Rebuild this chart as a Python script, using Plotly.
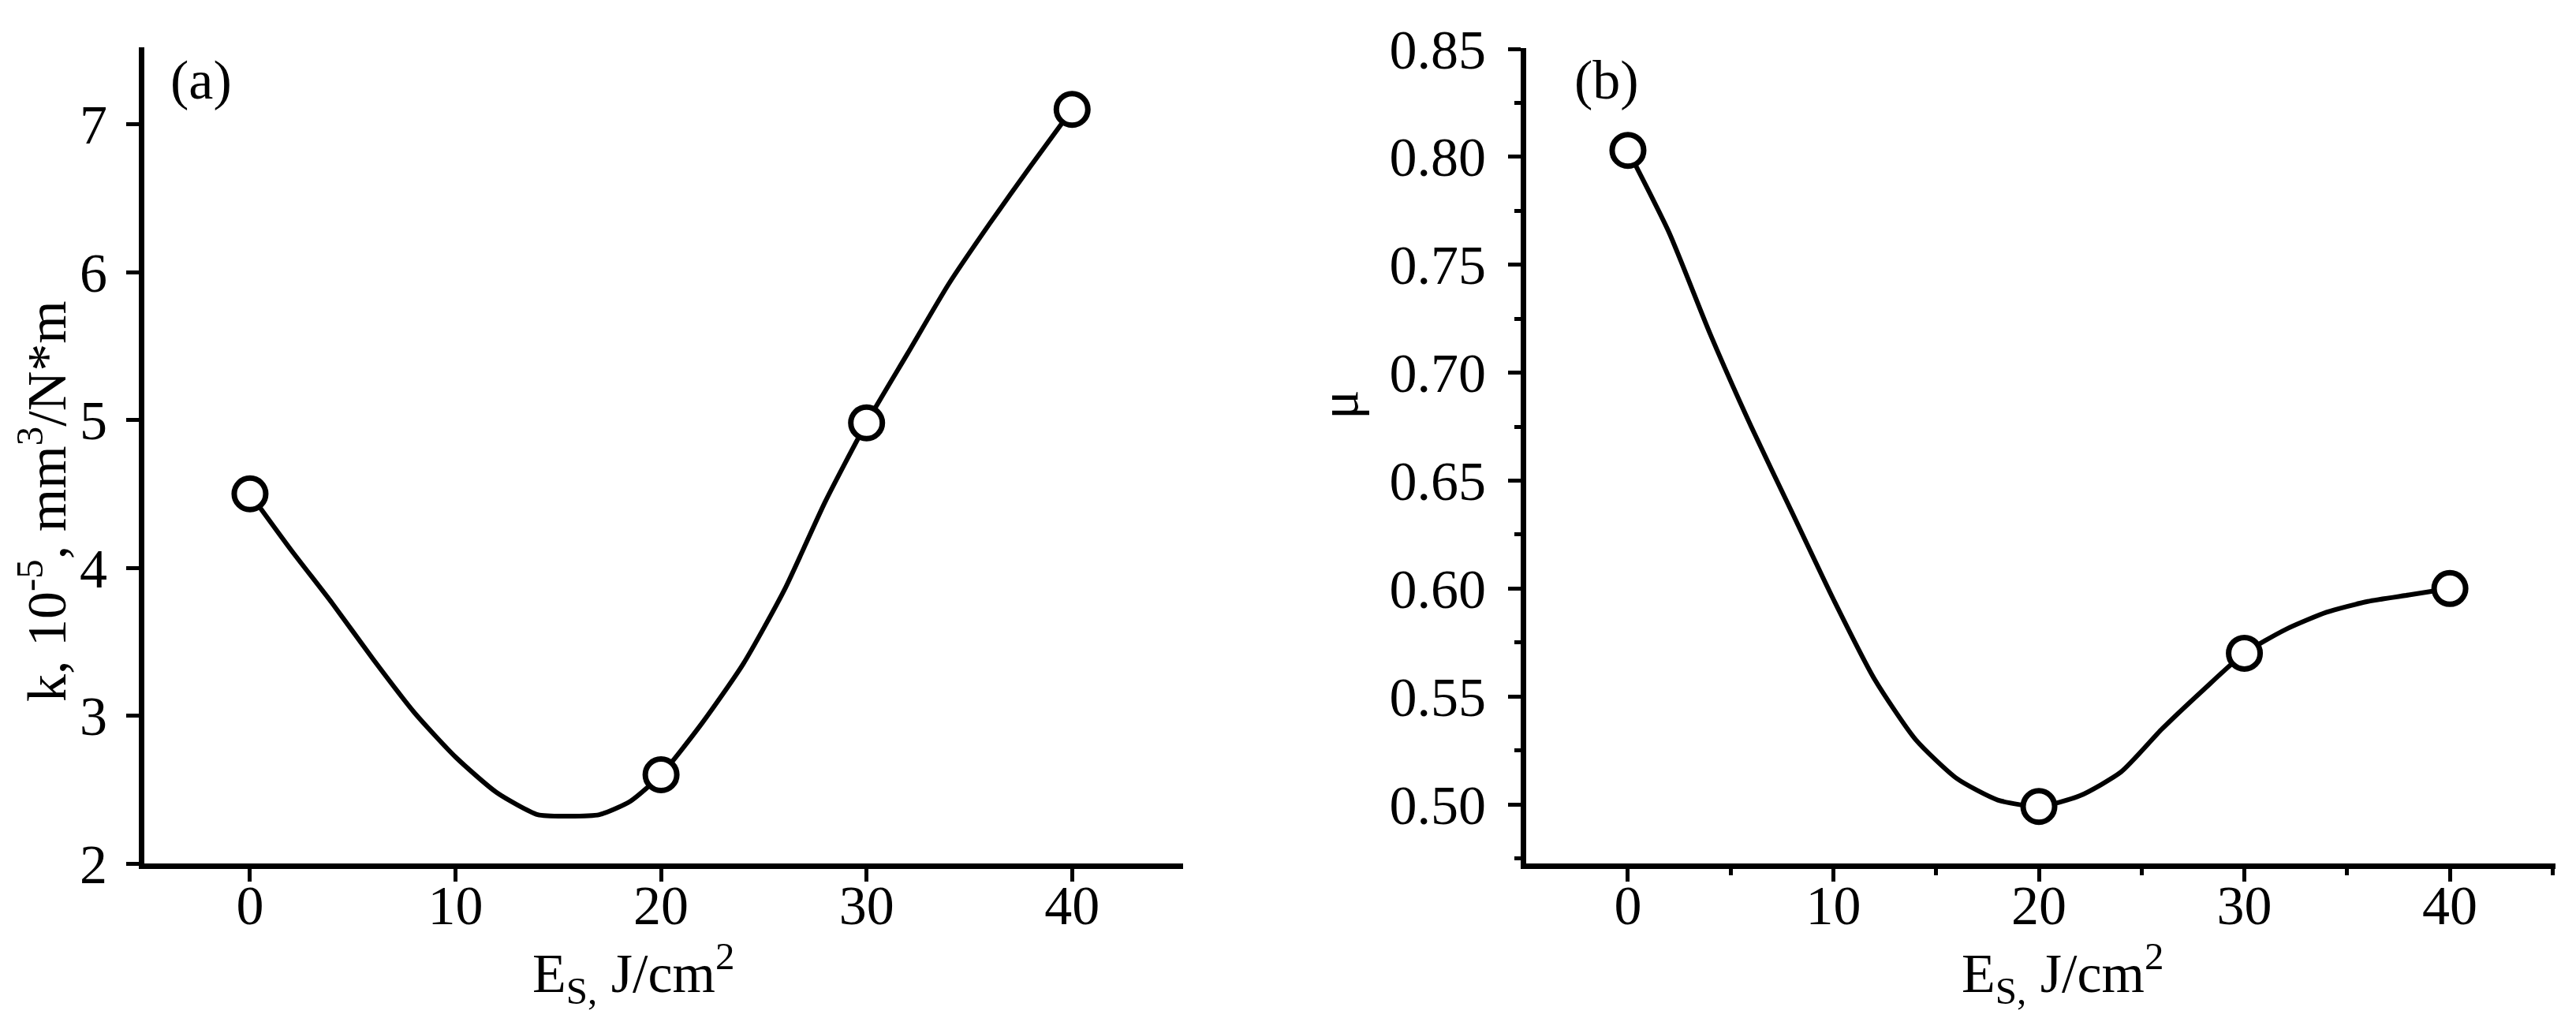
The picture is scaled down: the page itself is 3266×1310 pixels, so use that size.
import plotly.graph_objects as go

W, H = 3266, 1310
FONT = "Liberation Serif"

# ---- data ----
energy_points = [0, 20, 30, 40]
wear_rate_k = [4.5, 2.6, 4.98, 7.1]
friction_mu = [0.803, 0.499, 0.570, 0.600]

# drawn fitting curves
curve_a_x = [0, 2, 4, 6, 8, 10, 12, 14, 15.5, 17, 18.5, 20, 22, 24, 26, 28, 30, 32, 34, 36, 38, 40]
curve_a_y = [4.5, 4.12, 3.76, 3.38, 3.02, 2.72, 2.48, 2.33, 2.32, 2.33, 2.42, 2.6,
             2.95, 3.35, 3.85, 4.45, 4.98, 5.45, 5.92, 6.33, 6.72, 7.1]
curve_b_x = [0, 2, 4, 6, 8, 10, 12, 14, 16, 18, 20, 22, 24, 26, 28, 30, 32, 34, 36, 38, 40]
curve_b_y = [0.803, 0.765, 0.718, 0.675, 0.635, 0.595, 0.558, 0.530, 0.512, 0.502, 0.499,
             0.504, 0.515, 0.535, 0.553, 0.570, 0.581, 0.589, 0.594, 0.597, 0.600]

x_ticks = [0, 10, 20, 30, 40]
k_ticks = [2, 3, 4, 5, 6, 7]
mu_ticks = [0.50, 0.55, 0.60, 0.65, 0.70, 0.75, 0.80, 0.85]
mu_tick_text = ["0.50", "0.55", "0.60", "0.65", "0.70", "0.75", "0.80", "0.85"]

x_title = "E<sub>S,</sub> J/cm<sup>2</sup>"
k_title = "k, 10<sup>-5</sup>, mm<sup>3</sup>/N*m"
mu_title = "μ"


def px(x):
    return x / W


def py(y):
    return 1 - y / H


fig = go.Figure()

line_style = dict(color="black", width=6, shape="spline", smoothing=0.6)
marker_style = dict(symbol="circle", size=40, color="white", line=dict(color="black", width=7))

fig.add_trace(go.Scatter(x=curve_a_x, y=curve_a_y, mode="lines", line=line_style,
                         xaxis="x", yaxis="y", hoverinfo="skip"))
fig.add_trace(go.Scatter(x=energy_points, y=wear_rate_k, mode="markers", marker=marker_style,
                         xaxis="x", yaxis="y"))
fig.add_trace(go.Scatter(x=curve_b_x, y=curve_b_y, mode="lines", line=line_style,
                         xaxis="x2", yaxis="y2", hoverinfo="skip"))
fig.add_trace(go.Scatter(x=energy_points, y=friction_mu, mode="markers", marker=marker_style,
                         xaxis="x2", yaxis="y2"))

tickfont = dict(family=FONT, size=70, color="black")
axis_common = dict(showgrid=False, zeroline=False, showline=True, linecolor="black",
                   linewidth=7, ticks="outside", ticklen=16, tickwidth=5, tickcolor="black",
                   tickfont=tickfont, mirror=False, automargin=False)

fig.update_layout(
    template="none",
    width=W, height=H,
    margin=dict(l=0, r=0, t=0, b=0, autoexpand=False),
    paper_bgcolor="white", plot_bgcolor="white",
    showlegend=False,
    xaxis=dict(domain=[px(175), px(1492)], range=[-5.14, 45.4], tickvals=x_ticks,
               anchor="y", ticklabelstandoff=-30, **axis_common),
    yaxis=dict(domain=[py(1087), py(52)], range=[2, 7.52], tickvals=k_ticks,
               anchor="x", ticklabelstandoff=10, **axis_common),
    xaxis2=dict(domain=[px(1927), px(3232)], range=[-4.95, 45.14], tickvals=x_ticks,
                anchor="y2", ticklabelstandoff=-30,
                minor=dict(dtick=5, tick0=0, ticks="outside", ticklen=8, tickwidth=5, tickcolor="black"),
                **axis_common),
    yaxis2=dict(domain=[py(1087), py(53)], range=[0.4726, 0.8504], tickvals=mu_ticks,
                ticktext=mu_tick_text, anchor="x2", ticklabelstandoff=14,
                minor=dict(dtick=0.025, tick0=0.5, ticks="outside", ticklen=8, tickwidth=5, tickcolor="black"),
                **axis_common),
)

lab_font = dict(family=FONT, size=70, color="black")
annotations = [
    dict(text="(a)", x=px(247), y=py(93)),
    dict(text="(b)", x=px(2029), y=py(93)),
    dict(text=x_title, x=px(795), y=py(1226)),
    dict(text=x_title, x=px(2607), y=py(1226)),
    dict(text=k_title, x=px(46), y=py(628), textangle=-90),
    dict(text=mu_title, x=px(1690), y=py(505), textangle=-90),
]
for a in annotations:
    fig.add_annotation(xref="paper", yref="paper", showarrow=False, xanchor="center",
                       yanchor="middle", font=lab_font, **a)

fig.write_html("out.html")
